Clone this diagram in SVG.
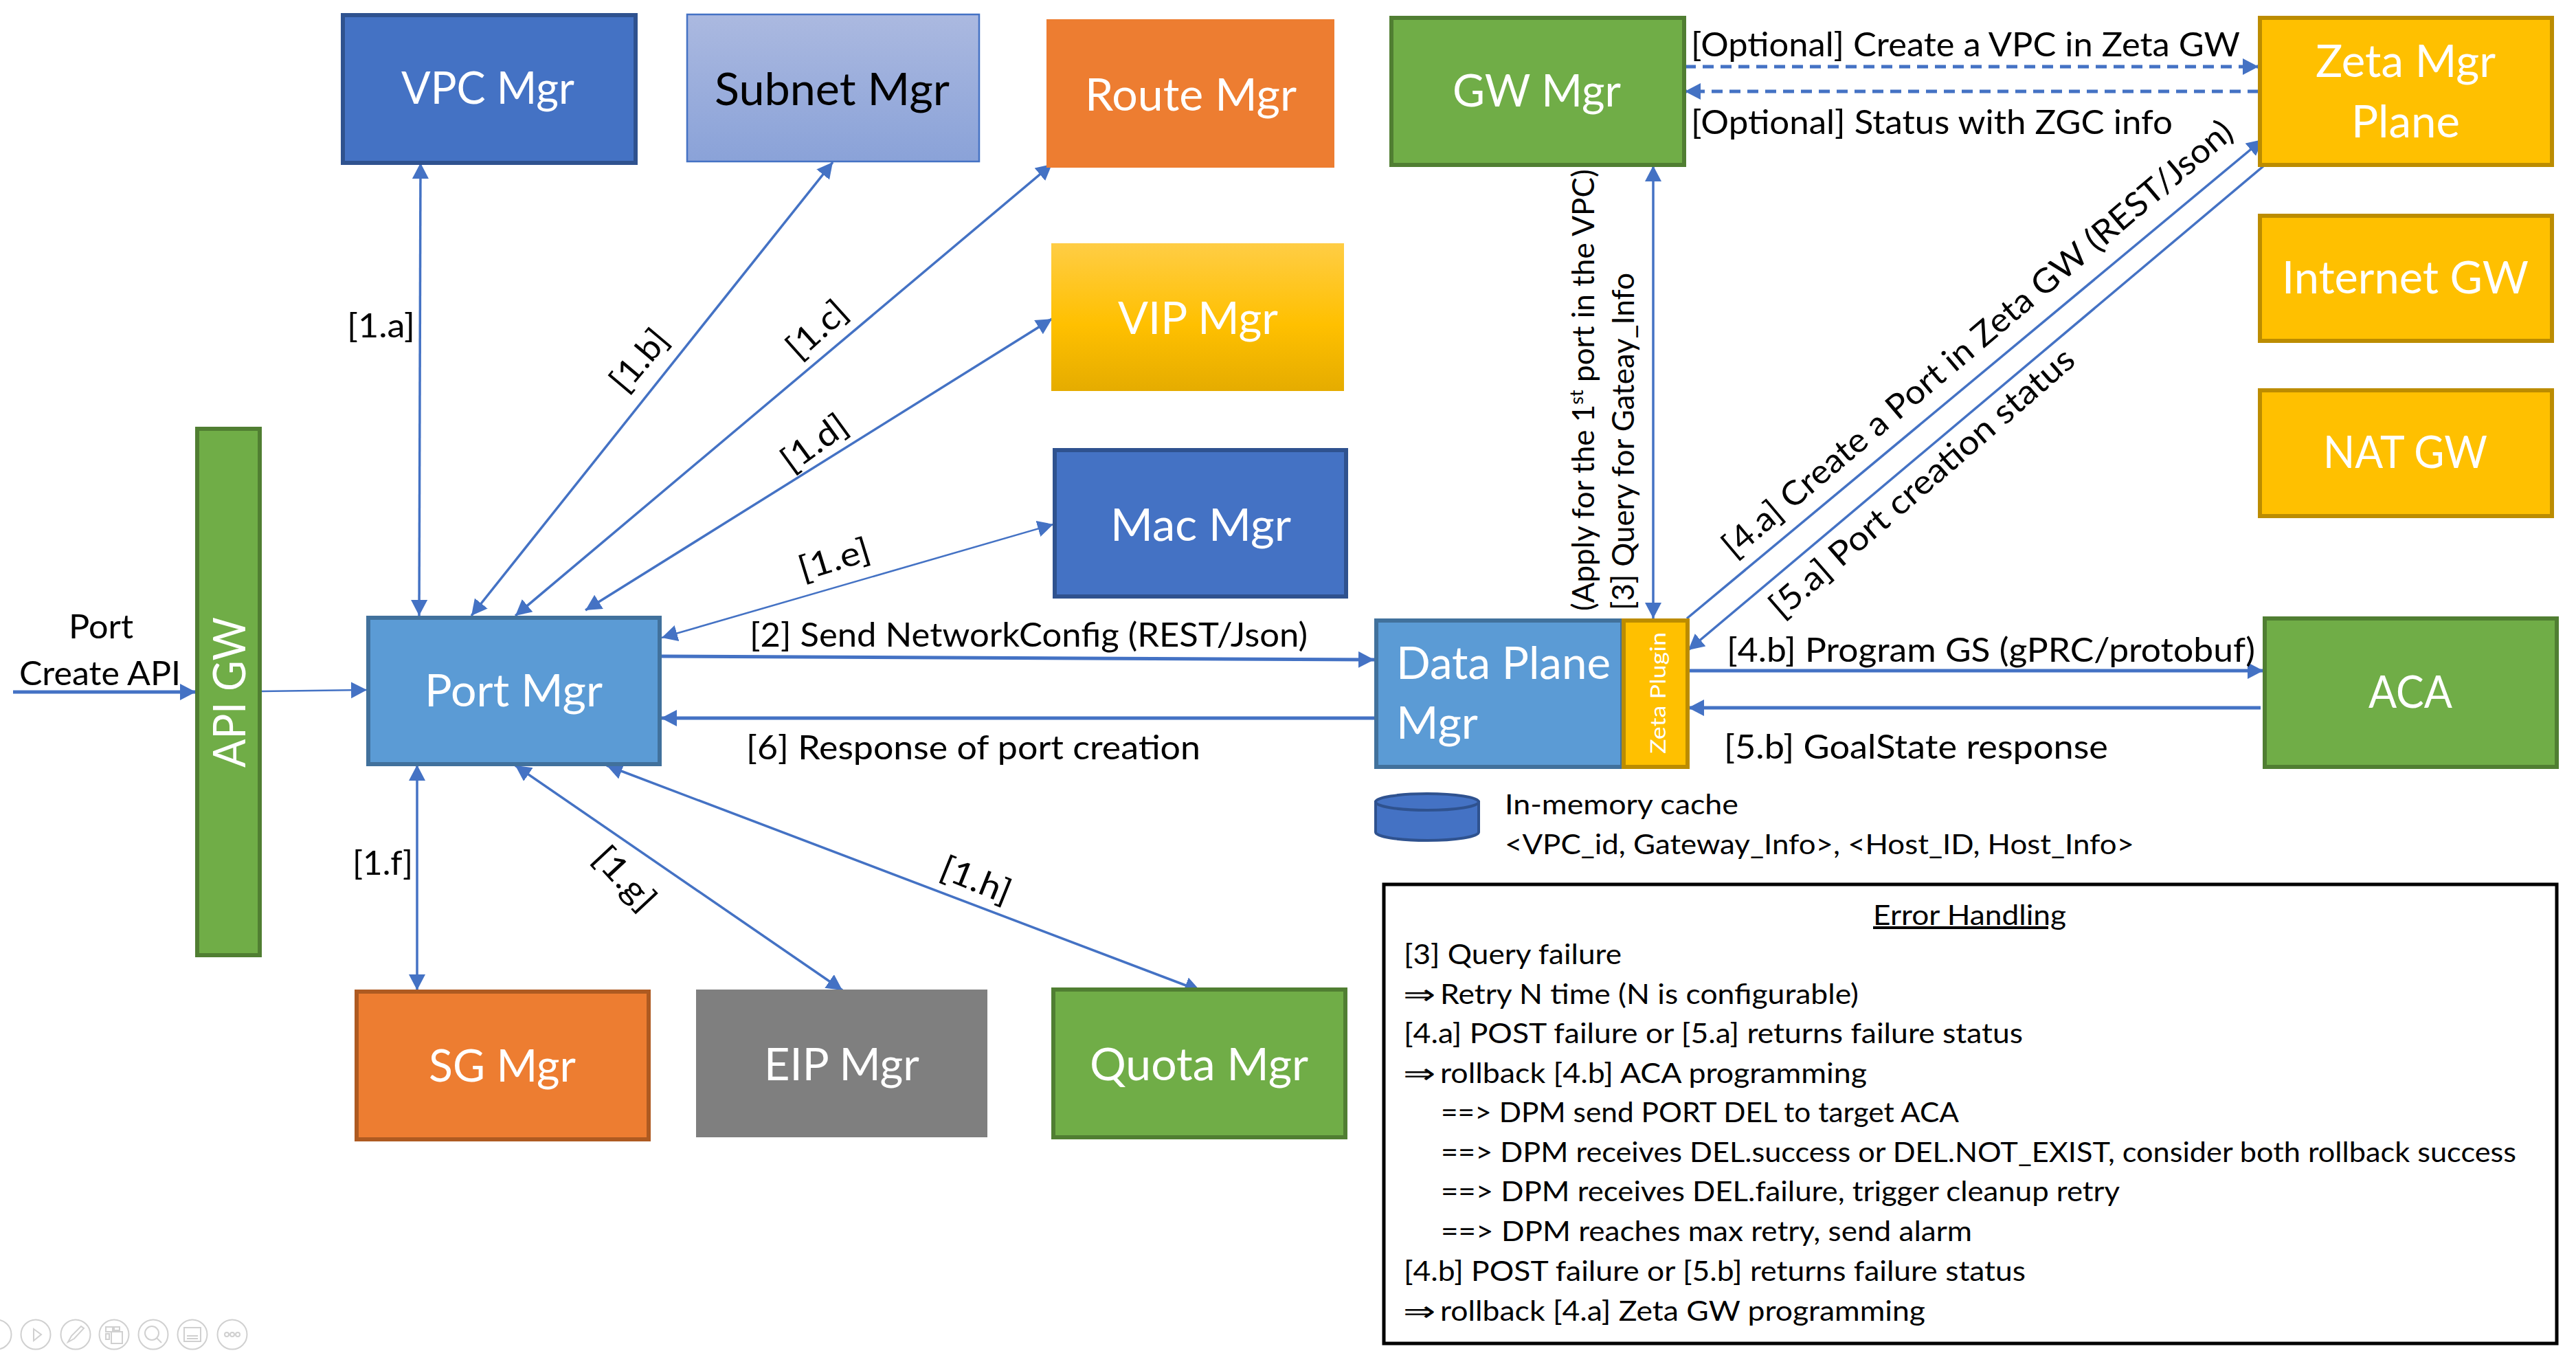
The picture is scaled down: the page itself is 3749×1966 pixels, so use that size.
<svg xmlns="http://www.w3.org/2000/svg" width="3749" height="1966" viewBox="0 0 3749 1966">
<style>
text{font-family:"Lato","Liberation Sans",sans-serif;fill:#000}
.b{font-size:66px;fill:#fff}
.k{fill:#000}
.m{font-size:49px}
.e{font-size:40px}
.blue{stroke:#2F528F;stroke-width:6;fill:#4472C4}
.port{stroke:#41719C;stroke-width:6;fill:#5B9BD5}
.green{stroke:#507E32;stroke-width:6;fill:#70AD47}
.amber{stroke:#BC8C00;stroke-width:6;fill:#FFC000}
.c{fill:none;stroke:#4472C4;stroke-width:3.5;marker-end:url(#a)}
.d{marker-start:url(#a)}
.t{stroke-width:5}
.n{stroke-width:2.5}
.dash{stroke-width:5;stroke-dasharray:16 10}
.i{fill:none;stroke:#d0d0d0;stroke-width:2}
</style>
<defs>
<marker id="a" markerUnits="userSpaceOnUse" markerWidth="26" markerHeight="26" refX="23" refY="12" orient="auto-start-reverse"><path d="M0 0L23 12L0 24z" fill="#4472C4"/></marker>
<linearGradient id="gs" x1="0" y1="0" x2="0" y2="1"><stop offset="0" stop-color="#ABB9E0"/><stop offset="1" stop-color="#8AA2D8"/></linearGradient>
<linearGradient id="gv" x1="0" y1="0" x2="0" y2="1"><stop offset="0" stop-color="#FFCD45"/><stop offset="0.55" stop-color="#FFC000"/><stop offset="1" stop-color="#E5AC00"/></linearGradient>
</defs>
<g id="connectors">
<line class="c d" x1="612" y1="237" x2="610" y2="896"/>
<line class="c d" x1="1212" y1="236" x2="686" y2="896"/>
<line class="c d" x1="1531" y1="239" x2="750" y2="896"/>
<line class="c d" x1="1531" y1="464" x2="852" y2="888"/>
<line class="c d n" x1="1533" y1="763" x2="963" y2="928"/>
<line class="c d" x1="607" y1="1113" x2="607" y2="1441"/>
<line class="c d" x1="750" y1="1114" x2="1226" y2="1441"/>
<line class="c d" x1="883" y1="1114" x2="1747" y2="1442"/>
<line class="c t" x1="19" y1="1007" x2="285" y2="1007"/>
<line class="c n" x1="380" y1="1006" x2="534" y2="1004"/>
<line class="c t" x1="962" y1="955" x2="2000" y2="960"/>
<line class="c t" x1="2000" y1="1045" x2="962" y2="1045"/>
<line class="c dash" x1="2452" y1="97" x2="3287" y2="97"/>
<line class="c dash" x1="3287" y1="133" x2="2452" y2="133"/>
<line class="c d" x1="2406" y1="241" x2="2406" y2="900"/>
<line class="c" x1="2455" y1="900" x2="3293" y2="203"/>
<line class="c" x1="3295" y1="241" x2="2457" y2="946"/>
<line class="c t" x1="2457" y1="976" x2="3294" y2="976"/>
<line class="c t" x1="3290" y1="1030" x2="2457" y2="1030"/>
</g>
<g id="vpc-mgr"><rect class="blue" x="499" y="22" width="426" height="215"/><text class="b" x="584" y="151" textLength="252" lengthAdjust="spacingAndGlyphs">VPC Mgr</text></g>
<g id="subnet-mgr"><rect x="1000" y="21" width="425" height="214" fill="url(#gs)" stroke="#4472C4" stroke-width="2.5"/><text class="b k" x="1040" y="153" textLength="342" lengthAdjust="spacingAndGlyphs">Subnet Mgr</text></g>
<g id="route-mgr"><rect x="1523" y="28" width="419" height="216" fill="#ED7D31"/><text class="b" x="1579" y="161" textLength="308" lengthAdjust="spacingAndGlyphs">Route Mgr</text></g>
<g id="vip-mgr"><rect x="1530" y="354" width="426" height="215" fill="url(#gv)"/><text class="b" x="1627" y="486" textLength="233" lengthAdjust="spacingAndGlyphs">VIP Mgr</text></g>
<g id="mac-mgr"><rect class="blue" x="1535" y="655" width="424" height="213"/><text class="b" x="1616" y="787" textLength="263" lengthAdjust="spacingAndGlyphs">Mac Mgr</text></g>
<g id="api-gw"><rect class="green" x="287" y="624" width="91" height="766"/><text class="b" transform="translate(357,1117) rotate(-90)" textLength="219" lengthAdjust="spacingAndGlyphs">API GW</text></g>
<g id="port-mgr"><rect class="port" x="536" y="899" width="424" height="213"/><text class="b" x="618" y="1028" textLength="259" lengthAdjust="spacingAndGlyphs">Port Mgr</text></g>
<g id="sg-mgr"><rect x="519" y="1443" width="425" height="215" fill="#ED7D31" stroke="#AE5A21" stroke-width="6"/><text class="b" x="624" y="1574" textLength="214" lengthAdjust="spacingAndGlyphs">SG Mgr</text></g>
<g id="eip-mgr"><rect x="1013" y="1440" width="424" height="215" fill="#7F7F7F"/><text class="b" x="1112" y="1572" textLength="226" lengthAdjust="spacingAndGlyphs">EIP Mgr</text></g>
<g id="quota-mgr"><rect class="green" x="1533" y="1440" width="425" height="215"/><text class="b" x="1586" y="1572" textLength="318" lengthAdjust="spacingAndGlyphs">Quota Mgr</text></g>
<g id="gw-mgr"><rect class="green" x="2025" y="26" width="426" height="214"/><text class="b" x="2114" y="155" textLength="245" lengthAdjust="spacingAndGlyphs">GW Mgr</text></g>
<g id="zeta-mgr-plane"><rect class="amber" x="3289" y="26" width="425" height="214"/><text class="b" x="3370" y="112" textLength="262" lengthAdjust="spacingAndGlyphs">Zeta Mgr</text><text class="b" x="3422" y="200" textLength="158" lengthAdjust="spacingAndGlyphs">Plane</text></g>
<g id="internet-gw"><rect class="amber" x="3289" y="314" width="425" height="182"/><text class="b" x="3321" y="427" textLength="359" lengthAdjust="spacingAndGlyphs">Internet GW</text></g>
<g id="nat-gw"><rect class="amber" x="3289" y="568" width="425" height="183"/><text class="b" x="3381" y="681" textLength="239" lengthAdjust="spacingAndGlyphs">NAT GW</text></g>
<g id="data-plane-mgr"><rect class="port" x="2003" y="903" width="358" height="213"/><text class="b" x="2032" y="988" textLength="312" lengthAdjust="spacingAndGlyphs">Data Plane</text><text class="b" x="2032" y="1075" textLength="119" lengthAdjust="spacingAndGlyphs">Mgr</text></g>
<g id="zeta-plugin"><rect class="amber" x="2363" y="903" width="93" height="213"/><text transform="translate(2424,1097) rotate(-90)" font-size="30" style="fill:#fff" textLength="177" lengthAdjust="spacingAndGlyphs">Zeta Plugin</text></g>
<g id="aca"><rect class="green" x="3296" y="900" width="425" height="216"/><text class="b" x="3447" y="1030" textLength="122" lengthAdjust="spacingAndGlyphs">ACA</text></g>
<g id="cache"><path d="M2002 1167v44a75 12 0 0 0 150 0v-44z" fill="#4472C4" stroke="#2F528F" stroke-width="4"/><ellipse cx="2077" cy="1167" rx="75" ry="12" fill="#4472C4" stroke="#2F528F" stroke-width="4"/></g>
<g id="labels">
<text class="m" x="100" y="929" textLength="94" lengthAdjust="spacingAndGlyphs">Port</text>
<text class="m" x="28" y="997" textLength="235" lengthAdjust="spacingAndGlyphs">Create API</text>
<text class="m" x="505" y="491" textLength="99" lengthAdjust="spacingAndGlyphs">[1.a]</text>
<text class="m" x="513" y="1273" textLength="88" lengthAdjust="spacingAndGlyphs">[1.f]</text>
<text class="m" text-anchor="middle" transform="translate(943,535) rotate(-50)" textLength="102" lengthAdjust="spacingAndGlyphs">[1.b]</text>
<text class="m" text-anchor="middle" transform="translate(1200,492) rotate(-42)" textLength="100" lengthAdjust="spacingAndGlyphs">[1.c]</text>
<text class="m" text-anchor="middle" transform="translate(1195,658) rotate(-36)" textLength="106" lengthAdjust="spacingAndGlyphs">[1.d]</text>
<text class="m" text-anchor="middle" transform="translate(1219,830) rotate(-17)" textLength="106" lengthAdjust="spacingAndGlyphs">[1.e]</text>
<text class="m" text-anchor="middle" transform="translate(897,1290) rotate(47)" textLength="108" lengthAdjust="spacingAndGlyphs">[1.g]</text>
<text class="m" text-anchor="middle" transform="translate(1414,1296) rotate(22)" textLength="106" lengthAdjust="spacingAndGlyphs">[1.h]</text>
<text class="m" x="1091" y="941" textLength="812" lengthAdjust="spacingAndGlyphs">[2] Send NetworkConfig (REST/Json)</text>
<text class="m" x="1086" y="1105" textLength="661" lengthAdjust="spacingAndGlyphs">[6] Response of port creation</text>
<text class="m" x="2461" y="82" textLength="799" lengthAdjust="spacingAndGlyphs">[Optional] Create a VPC in Zeta GW</text>
<text class="m" x="2461" y="195" textLength="701" lengthAdjust="spacingAndGlyphs">[Optional] Status with ZGC info</text>
<text transform="translate(2320,889) rotate(-90)" style="font-size:44px">(Apply for the 1<tspan style="font-size:27px" dy="-16">st</tspan><tspan dy="16"> port in the VPC)</tspan></text>
<text transform="translate(2378,888) rotate(-90)" style="font-size:44px" textLength="491" lengthAdjust="spacingAndGlyphs">[3] Query for Gateay_Info</text>
<text class="m" transform="translate(2524,814) rotate(-40.2)" textLength="955" lengthAdjust="spacingAndGlyphs">[4.a] Create a Port in Zeta GW (REST/Json)</text>
<text class="m" transform="translate(2593,902) rotate(-41)" textLength="570" lengthAdjust="spacingAndGlyphs">[5.a] Port creation status</text>
<text class="m" x="2513" y="963" textLength="769" lengthAdjust="spacingAndGlyphs">[4.b] Program GS (gPRC/protobuf)</text>
<text class="m" x="2509" y="1104" textLength="559" lengthAdjust="spacingAndGlyphs">[5.b] GoalState response</text>
<text class="e" x="2190" y="1185" textLength="340" lengthAdjust="spacingAndGlyphs">In-memory cache</text>
<text class="e" x="2190" y="1243" textLength="916" lengthAdjust="spacingAndGlyphs">&lt;VPC_id, Gateway_Info&gt;, &lt;Host_ID, Host_Info&gt;</text>
</g>
<g id="error-handling">
<rect x="2014" y="1287" width="1707" height="668" fill="none" stroke="#000" stroke-width="5"/>
<text class="e" x="2726" y="1346" textLength="281" lengthAdjust="spacingAndGlyphs" text-decoration="underline">Error Handling</text>
<text class="e" x="2043" y="1403" textLength="317" lengthAdjust="spacingAndGlyphs">[3] Query failure</text>
<text class="e" x="2042" y="1461" textLength="48" lengthAdjust="spacingAndGlyphs">⇒</text>
<text class="e" x="2096" y="1461" textLength="609" lengthAdjust="spacingAndGlyphs">Retry N time (N is configurable)</text>
<text class="e" x="2043" y="1518" textLength="901" lengthAdjust="spacingAndGlyphs">[4.a] POST failure or [5.a] returns failure status</text>
<text class="e" x="2042" y="1576" textLength="48" lengthAdjust="spacingAndGlyphs">⇒</text>
<text class="e" x="2096" y="1576" textLength="621" lengthAdjust="spacingAndGlyphs">rollback [4.b] ACA programming</text>
<text class="e" x="2097" y="1633" textLength="754" lengthAdjust="spacingAndGlyphs">==&gt; DPM send PORT DEL to target ACA</text>
<text class="e" x="2097" y="1691" textLength="1565" lengthAdjust="spacingAndGlyphs">==&gt; DPM receives DEL.success or DEL.NOT_EXIST, consider both rollback success</text>
<text class="e" x="2097" y="1748" textLength="988" lengthAdjust="spacingAndGlyphs">==&gt; DPM receives DEL.failure, trigger cleanup retry</text>
<text class="e" x="2097" y="1806" textLength="773" lengthAdjust="spacingAndGlyphs">==&gt; DPM reaches max retry, send alarm</text>
<text class="e" x="2043" y="1864" textLength="905" lengthAdjust="spacingAndGlyphs">[4.b] POST failure or [5.b] returns failure status</text>
<text class="e" x="2042" y="1922" textLength="48" lengthAdjust="spacingAndGlyphs">⇒</text>
<text class="e" x="2096" y="1922" textLength="706" lengthAdjust="spacingAndGlyphs">rollback [4.a] Zeta GW programming</text>
</g>
<g id="toolbar">
<circle class="i" cx="-5" cy="1942" r="21.5"/>
<circle class="i" cx="52" cy="1942" r="21.5"/><path class="i" d="M49 1934L60 1942L49 1951z"/>
<circle class="i" cx="110" cy="1942" r="21.5"/><path class="i" d="M99 1953L104 1944L118 1930L122 1933L108 1948z"/>
<circle class="i" cx="166" cy="1942" r="21.5"/><path class="i" d="M154 1931h10v7h-10zM166 1931h8v5h-8zM154 1941h5v8h-5zM162 1938h16v17h-16z"/>
<circle class="i" cx="223" cy="1942" r="21.5"/><circle class="i" cx="221" cy="1940" r="10"/><path class="i" d="M228 1947l7 7"/>
<circle class="i" cx="280" cy="1942" r="21.5"/><path class="i" d="M268 1932h24v20h-24zM272 1944h16M272 1948h16"/>
<circle class="i" cx="338" cy="1942" r="21.5"/><circle class="i" cx="330" cy="1942" r="3"/><circle class="i" cx="338" cy="1942" r="3"/><circle class="i" cx="346" cy="1942" r="3"/>
</g>
</svg>
